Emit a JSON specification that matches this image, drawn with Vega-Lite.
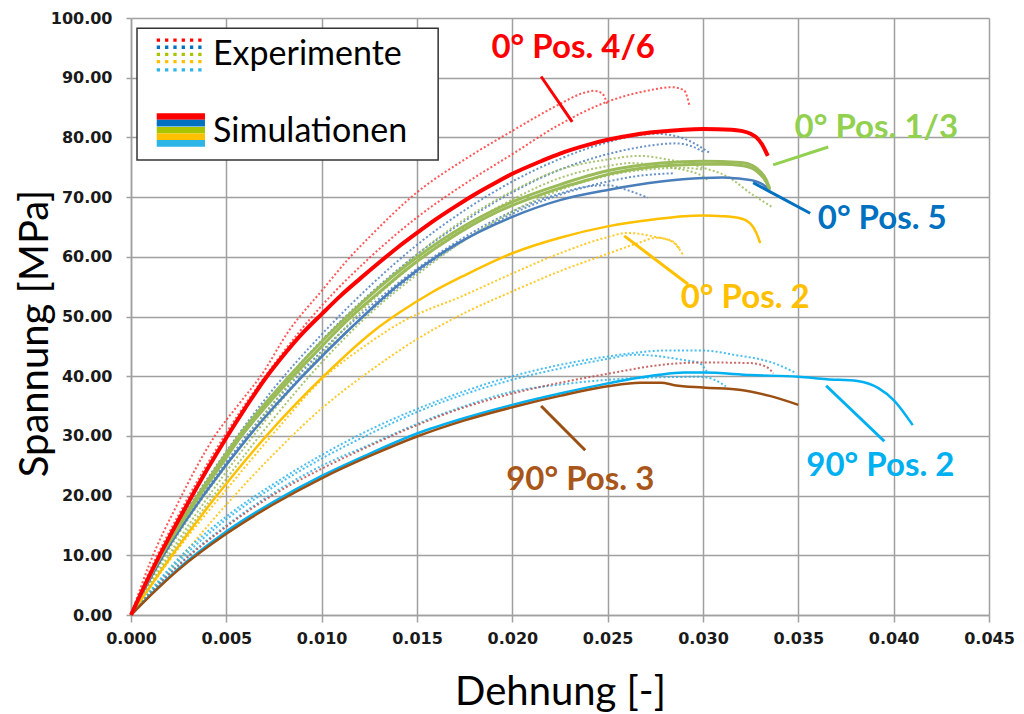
{
"$schema":"https://vega.github.io/schema/vega-lite/v6.json",
"width":858,"height":597,
"autosize":{"type":"none"},
"padding":{"left":131,"top":18,"right":35,"bottom":99},
"background":"white",
"config":{"view":{"stroke":null},
"axis":{"gridColor":"#a0a0a0","gridWidth":1.5,"domainColor":"#a0a0a0","domainWidth":1.5,"tickColor":"#a0a0a0","tickWidth":1.5,"labelFont":"DejaVu Sans","labelFontWeight":"bold","labelFontSize":16,"labelColor":"#1a1a1a","titleFont":"Lato","titleFontWeight":"normal","titleFontSize":40,"titleColor":"#000000","labelFlush":false,"labelOverlap":false},
"axisX":{"tickSize":7,"labelPadding":8,"titleY":77,"titleBaseline":"middle"},
"axisY":{"tickSize":5,"labelPadding":14,"titleX":-96,"titleY":315,"titleBaseline":"middle","titleAlign":"center"}},
"datasets":{
"exp":[
{"s":"R1","g":"p46","x":0,"y":0},{"s":"R1","g":"p46","x":0.001,"y":8.8},{"s":"R1","g":"p46","x":0.0025,"y":19},{"s":"R1","g":"p46","x":0.0044,"y":30},{"s":"R1","g":"p46","x":0.0057,"y":35.5},{"s":"R1","g":"p46","x":0.0068,"y":40},{"s":"R1","g":"p46","x":0.0083,"y":47.7},{"s":"R1","g":"p46","x":0.01,"y":54.3},{"s":"R1","g":"p46","x":0.0115,"y":60},{"s":"R1","g":"p46","x":0.0125,"y":63.3},{"s":"R1","g":"p46","x":0.015,"y":70.8},{"s":"R1","g":"p46","x":0.0175,"y":76.3},{"s":"R1","g":"p46","x":0.02,"y":81.1},{"s":"R1","g":"p46","x":0.0225,"y":85.6},{"s":"R1","g":"p46","x":0.0236,"y":87.3},{"s":"R1","g":"p46","x":0.0243,"y":87.8},{"s":"R1","g":"p46","x":0.0247,"y":87.4},{"s":"R1","g":"p46","x":0.025,"y":85.4},
{"s":"R2","g":"p46","x":0,"y":0},{"s":"R2","g":"p46","x":0.001,"y":7.5},{"s":"R2","g":"p46","x":0.0025,"y":16.8},{"s":"R2","g":"p46","x":0.005,"y":30.5},{"s":"R2","g":"p46","x":0.0075,"y":42},{"s":"R2","g":"p46","x":0.01,"y":51.8},{"s":"R2","g":"p46","x":0.0125,"y":59.8},{"s":"R2","g":"p46","x":0.015,"y":66.6},{"s":"R2","g":"p46","x":0.0175,"y":72.2},{"s":"R2","g":"p46","x":0.02,"y":77.2},{"s":"R2","g":"p46","x":0.0225,"y":82.2},{"s":"R2","g":"p46","x":0.025,"y":86},{"s":"R2","g":"p46","x":0.0269,"y":87.7},{"s":"R2","g":"p46","x":0.0284,"y":88.4},{"s":"R2","g":"p46","x":0.029,"y":87.9},{"s":"R2","g":"p46","x":0.0293,"y":85.2},
{"s":"B1","g":"p5","x":0,"y":0},{"s":"B1","g":"p5","x":0.001,"y":6.3},{"s":"B1","g":"p5","x":0.0025,"y":15.2},{"s":"B1","g":"p5","x":0.005,"y":27.4},{"s":"B1","g":"p5","x":0.0075,"y":38},{"s":"B1","g":"p5","x":0.01,"y":47},{"s":"B1","g":"p5","x":0.0125,"y":55},{"s":"B1","g":"p5","x":0.015,"y":62},{"s":"B1","g":"p5","x":0.0175,"y":67.8},{"s":"B1","g":"p5","x":0.02,"y":72.6},{"s":"B1","g":"p5","x":0.0225,"y":76.4},{"s":"B1","g":"p5","x":0.025,"y":79.2},{"s":"B1","g":"p5","x":0.0265,"y":80.3},{"s":"B1","g":"p5","x":0.0276,"y":80.6},{"s":"B1","g":"p5","x":0.029,"y":79.8},{"s":"B1","g":"p5","x":0.0304,"y":77.3},
{"s":"B2","g":"p5","x":0,"y":0},{"s":"B2","g":"p5","x":0.001,"y":6},{"s":"B2","g":"p5","x":0.0025,"y":14.6},{"s":"B2","g":"p5","x":0.005,"y":26.6},{"s":"B2","g":"p5","x":0.0075,"y":37},{"s":"B2","g":"p5","x":0.01,"y":46},{"s":"B2","g":"p5","x":0.0125,"y":53.7},{"s":"B2","g":"p5","x":0.015,"y":60.4},{"s":"B2","g":"p5","x":0.0175,"y":66},{"s":"B2","g":"p5","x":0.02,"y":70.8},{"s":"B2","g":"p5","x":0.0225,"y":74.6},{"s":"B2","g":"p5","x":0.025,"y":77.2},{"s":"B2","g":"p5","x":0.0264,"y":78.2},{"s":"B2","g":"p5","x":0.0286,"y":79},{"s":"B2","g":"p5","x":0.0295,"y":78.4},{"s":"B2","g":"p5","x":0.03,"y":77.6},
{"s":"B3","g":"p5","x":0,"y":0},{"s":"B3","g":"p5","x":0.001,"y":5.8},{"s":"B3","g":"p5","x":0.0025,"y":14},{"s":"B3","g":"p5","x":0.005,"y":25.6},{"s":"B3","g":"p5","x":0.0075,"y":35.6},{"s":"B3","g":"p5","x":0.01,"y":44.2},{"s":"B3","g":"p5","x":0.0125,"y":51.6},{"s":"B3","g":"p5","x":0.015,"y":58},{"s":"B3","g":"p5","x":0.0175,"y":63.3},{"s":"B3","g":"p5","x":0.02,"y":67.6},{"s":"B3","g":"p5","x":0.0225,"y":70.6},{"s":"B3","g":"p5","x":0.024,"y":71.8},{"s":"B3","g":"p5","x":0.025,"y":72},{"s":"B3","g":"p5","x":0.026,"y":71.2},{"s":"B3","g":"p5","x":0.0271,"y":69.9},
{"s":"B4","g":"p5","x":0,"y":0},{"s":"B4","g":"p5","x":0.001,"y":5.9},{"s":"B4","g":"p5","x":0.0025,"y":14.2},{"s":"B4","g":"p5","x":0.005,"y":25.2},{"s":"B4","g":"p5","x":0.0075,"y":35},{"s":"B4","g":"p5","x":0.01,"y":43.5},{"s":"B4","g":"p5","x":0.0125,"y":50.8},{"s":"B4","g":"p5","x":0.015,"y":57.4},{"s":"B4","g":"p5","x":0.0175,"y":62.8},{"s":"B4","g":"p5","x":0.02,"y":67.2},{"s":"B4","g":"p5","x":0.0225,"y":70.4},{"s":"B4","g":"p5","x":0.025,"y":72.6},{"s":"B4","g":"p5","x":0.0265,"y":73.5},{"s":"B4","g":"p5","x":0.0285,"y":74},
{"s":"G1","g":"p13","x":0,"y":0},{"s":"G1","g":"p13","x":0.001,"y":5.6},{"s":"G1","g":"p13","x":0.0025,"y":13.6},{"s":"G1","g":"p13","x":0.005,"y":25},{"s":"G1","g":"p13","x":0.0075,"y":35.6},{"s":"G1","g":"p13","x":0.01,"y":45},{"s":"G1","g":"p13","x":0.0125,"y":53.4},{"s":"G1","g":"p13","x":0.015,"y":60.4},{"s":"G1","g":"p13","x":0.0175,"y":66.3},{"s":"G1","g":"p13","x":0.02,"y":71},{"s":"G1","g":"p13","x":0.0225,"y":74.6},{"s":"G1","g":"p13","x":0.025,"y":76.3},{"s":"G1","g":"p13","x":0.0267,"y":76.9},{"s":"G1","g":"p13","x":0.0283,"y":76.2},{"s":"G1","g":"p13","x":0.0299,"y":75},{"s":"G1","g":"p13","x":0.0313,"y":73.4},{"s":"G1","g":"p13","x":0.0326,"y":70.4},{"s":"G1","g":"p13","x":0.0336,"y":68.4},
{"s":"G2","g":"p13","x":0,"y":0},{"s":"G2","g":"p13","x":0.001,"y":5.1},{"s":"G2","g":"p13","x":0.0025,"y":12.6},{"s":"G2","g":"p13","x":0.005,"y":24},{"s":"G2","g":"p13","x":0.0075,"y":34.4},{"s":"G2","g":"p13","x":0.01,"y":43.8},{"s":"G2","g":"p13","x":0.0125,"y":52.2},{"s":"G2","g":"p13","x":0.015,"y":59.2},{"s":"G2","g":"p13","x":0.0175,"y":65},{"s":"G2","g":"p13","x":0.02,"y":69.6},{"s":"G2","g":"p13","x":0.0225,"y":73.2},{"s":"G2","g":"p13","x":0.025,"y":75.2},{"s":"G2","g":"p13","x":0.0262,"y":75.7},{"s":"G2","g":"p13","x":0.028,"y":75.1},{"s":"G2","g":"p13","x":0.03,"y":73.5},{"s":"G2","g":"p13","x":0.0303,"y":72.6},
{"s":"G3","g":"p13","x":0,"y":0},{"s":"G3","g":"p13","x":0.001,"y":4.8},{"s":"G3","g":"p13","x":0.0025,"y":12},{"s":"G3","g":"p13","x":0.005,"y":22.8},{"s":"G3","g":"p13","x":0.0075,"y":33},{"s":"G3","g":"p13","x":0.01,"y":42.3},{"s":"G3","g":"p13","x":0.0125,"y":50.4},{"s":"G3","g":"p13","x":0.015,"y":57},{"s":"G3","g":"p13","x":0.0175,"y":62.8},{"s":"G3","g":"p13","x":0.02,"y":67.6},{"s":"G3","g":"p13","x":0.0225,"y":71.2},{"s":"G3","g":"p13","x":0.025,"y":73.6},{"s":"G3","g":"p13","x":0.027,"y":74.6},{"s":"G3","g":"p13","x":0.029,"y":74.9},{"s":"G3","g":"p13","x":0.03,"y":74.6},
{"s":"Y1","g":"p2","x":0,"y":0},{"s":"Y1","g":"p2","x":0.001,"y":4.6},{"s":"Y1","g":"p2","x":0.0025,"y":11.2},{"s":"Y1","g":"p2","x":0.005,"y":21},{"s":"Y1","g":"p2","x":0.0075,"y":30.5},{"s":"Y1","g":"p2","x":0.01,"y":39.4},{"s":"Y1","g":"p2","x":0.0125,"y":45.6},{"s":"Y1","g":"p2","x":0.0141,"y":48.9},{"s":"Y1","g":"p2","x":0.0175,"y":53.6},{"s":"Y1","g":"p2","x":0.02,"y":57.2},{"s":"Y1","g":"p2","x":0.0225,"y":60.6},{"s":"Y1","g":"p2","x":0.025,"y":63.3},{"s":"Y1","g":"p2","x":0.026,"y":64},{"s":"Y1","g":"p2","x":0.0274,"y":63.4},{"s":"Y1","g":"p2","x":0.0284,"y":62.5},{"s":"Y1","g":"p2","x":0.029,"y":60.1},
{"s":"Y2","g":"p2","x":0,"y":0},{"s":"Y2","g":"p2","x":0.001,"y":3.6},{"s":"Y2","g":"p2","x":0.0025,"y":9.2},{"s":"Y2","g":"p2","x":0.005,"y":18.5},{"s":"Y2","g":"p2","x":0.0075,"y":27},{"s":"Y2","g":"p2","x":0.01,"y":34.6},{"s":"Y2","g":"p2","x":0.0125,"y":40.8},{"s":"Y2","g":"p2","x":0.015,"y":46.2},{"s":"Y2","g":"p2","x":0.0175,"y":50.6},{"s":"Y2","g":"p2","x":0.02,"y":54.2},{"s":"Y2","g":"p2","x":0.0225,"y":57.6},{"s":"Y2","g":"p2","x":0.025,"y":60.5},{"s":"Y2","g":"p2","x":0.0265,"y":62.2},{"s":"Y2","g":"p2","x":0.0276,"y":63.2},{"s":"Y2","g":"p2","x":0.0284,"y":62.6},{"s":"Y2","g":"p2","x":0.0288,"y":61.2},
{"s":"C1","g":"q2","x":0,"y":0},{"s":"C1","g":"q2","x":0.001,"y":4},{"s":"C1","g":"q2","x":0.0025,"y":9.5},{"s":"C1","g":"q2","x":0.005,"y":16.5},{"s":"C1","g":"q2","x":0.0075,"y":22},{"s":"C1","g":"q2","x":0.01,"y":26.8},{"s":"C1","g":"q2","x":0.0125,"y":31},{"s":"C1","g":"q2","x":0.015,"y":34.5},{"s":"C1","g":"q2","x":0.0175,"y":37.5},{"s":"C1","g":"q2","x":0.02,"y":40},{"s":"C1","g":"q2","x":0.0225,"y":41.9},{"s":"C1","g":"q2","x":0.025,"y":43.3},{"s":"C1","g":"q2","x":0.0281,"y":44.3},{"s":"C1","g":"q2","x":0.03,"y":44.3},{"s":"C1","g":"q2","x":0.0316,"y":43.6},{"s":"C1","g":"q2","x":0.0337,"y":42.2},{"s":"C1","g":"q2","x":0.0349,"y":40.5},
{"s":"C2","g":"q2","x":0,"y":0},{"s":"C2","g":"q2","x":0.001,"y":3.8},{"s":"C2","g":"q2","x":0.0025,"y":9},{"s":"C2","g":"q2","x":0.005,"y":16},{"s":"C2","g":"q2","x":0.0075,"y":21.5},{"s":"C2","g":"q2","x":0.01,"y":26.2},{"s":"C2","g":"q2","x":0.0125,"y":30.3},{"s":"C2","g":"q2","x":0.015,"y":34},{"s":"C2","g":"q2","x":0.0175,"y":37},{"s":"C2","g":"q2","x":0.02,"y":39.4},{"s":"C2","g":"q2","x":0.0225,"y":41.3},{"s":"C2","g":"q2","x":0.025,"y":42.9},{"s":"C2","g":"q2","x":0.0264,"y":43.6},{"s":"C2","g":"q2","x":0.029,"y":42.7},{"s":"C2","g":"q2","x":0.0298,"y":42.2},{"s":"C2","g":"q2","x":0.0302,"y":40.8},
{"s":"C3","g":"q2","x":0,"y":0},{"s":"C3","g":"q2","x":0.001,"y":3.6},{"s":"C3","g":"q2","x":0.0025,"y":8.5},{"s":"C3","g":"q2","x":0.005,"y":15},{"s":"C3","g":"q2","x":0.0075,"y":20.5},{"s":"C3","g":"q2","x":0.01,"y":25},{"s":"C3","g":"q2","x":0.0125,"y":28.5},{"s":"C3","g":"q2","x":0.015,"y":32},{"s":"C3","g":"q2","x":0.0175,"y":35},{"s":"C3","g":"q2","x":0.02,"y":37.4},{"s":"C3","g":"q2","x":0.0225,"y":38.6},{"s":"C3","g":"q2","x":0.025,"y":39.4},{"s":"C3","g":"q2","x":0.0275,"y":39.8},{"s":"C3","g":"q2","x":0.0299,"y":39.9},{"s":"C3","g":"q2","x":0.0306,"y":39.4},{"s":"C3","g":"q2","x":0.0312,"y":38.3},
{"s":"D1","g":"q3","x":0,"y":0},{"s":"D1","g":"q3","x":0.001,"y":3.5},{"s":"D1","g":"q3","x":0.0025,"y":8.3},{"s":"D1","g":"q3","x":0.005,"y":14.8},{"s":"D1","g":"q3","x":0.0075,"y":20.2},{"s":"D1","g":"q3","x":0.01,"y":24.5},{"s":"D1","g":"q3","x":0.0125,"y":28.3},{"s":"D1","g":"q3","x":0.015,"y":31.8},{"s":"D1","g":"q3","x":0.0175,"y":34.8},{"s":"D1","g":"q3","x":0.02,"y":37.1},{"s":"D1","g":"q3","x":0.0225,"y":38.9},{"s":"D1","g":"q3","x":0.025,"y":40.4},{"s":"D1","g":"q3","x":0.0281,"y":42},{"s":"D1","g":"q3","x":0.03,"y":42.3},{"s":"D1","g":"q3","x":0.0325,"y":42.2},{"s":"D1","g":"q3","x":0.0333,"y":41.6},{"s":"D1","g":"q3","x":0.0337,"y":40.5}
],
"sim":[
{"s":"SR","g":"p46","x":0,"y":0},{"s":"SR","g":"p46","x":0.001,"y":6.8},{"s":"SR","g":"p46","x":0.002,"y":13},{"s":"SR","g":"p46","x":0.003,"y":18.8},{"s":"SR","g":"p46","x":0.004,"y":24.4},{"s":"SR","g":"p46","x":0.005,"y":29.7},{"s":"SR","g":"p46","x":0.006,"y":34.7},{"s":"SR","g":"p46","x":0.007,"y":39.4},{"s":"SR","g":"p46","x":0.008,"y":43.5},{"s":"SR","g":"p46","x":0.009,"y":47.2},{"s":"SR","g":"p46","x":0.01,"y":50.4},{"s":"SR","g":"p46","x":0.011,"y":53.5},{"s":"SR","g":"p46","x":0.012,"y":56.3},{"s":"SR","g":"p46","x":0.013,"y":59},{"s":"SR","g":"p46","x":0.014,"y":61.6},{"s":"SR","g":"p46","x":0.015,"y":64},{"s":"SR","g":"p46","x":0.016,"y":66.3},{"s":"SR","g":"p46","x":0.017,"y":68.4},{"s":"SR","g":"p46","x":0.018,"y":70.4},{"s":"SR","g":"p46","x":0.019,"y":72.2},{"s":"SR","g":"p46","x":0.02,"y":73.9},{"s":"SR","g":"p46","x":0.0215,"y":76},{"s":"SR","g":"p46","x":0.0225,"y":77.3},{"s":"SR","g":"p46","x":0.024,"y":78.8},{"s":"SR","g":"p46","x":0.025,"y":79.6},{"s":"SR","g":"p46","x":0.0265,"y":80.5},{"s":"SR","g":"p46","x":0.0275,"y":80.9},{"s":"SR","g":"p46","x":0.029,"y":81.3},{"s":"SR","g":"p46","x":0.03,"y":81.4},{"s":"SR","g":"p46","x":0.0315,"y":81.3},{"s":"SR","g":"p46","x":0.032,"y":81.1},{"s":"SR","g":"p46","x":0.0325,"y":80.6},{"s":"SR","g":"p46","x":0.0328,"y":80},{"s":"SR","g":"p46","x":0.0331,"y":78.8},{"s":"SR","g":"p46","x":0.0334,"y":76.9},
{"s":"SG1","g":"p13","x":0,"y":0},{"s":"SG1","g":"p13","x":0.0008,"y":5.2},{"s":"SG1","g":"p13","x":0.0016,"y":10},{"s":"SG1","g":"p13","x":0.0026,"y":15.2},{"s":"SG1","g":"p13","x":0.0036,"y":20},{"s":"SG1","g":"p13","x":0.0047,"y":25},{"s":"SG1","g":"p13","x":0.0058,"y":30},{"s":"SG1","g":"p13","x":0.0071,"y":35},{"s":"SG1","g":"p13","x":0.0085,"y":40},{"s":"SG1","g":"p13","x":0.01,"y":45},{"s":"SG1","g":"p13","x":0.0115,"y":49.8},{"s":"SG1","g":"p13","x":0.013,"y":54},{"s":"SG1","g":"p13","x":0.0145,"y":58},{"s":"SG1","g":"p13","x":0.016,"y":61.5},{"s":"SG1","g":"p13","x":0.0175,"y":64.6},{"s":"SG1","g":"p13","x":0.019,"y":67.2},{"s":"SG1","g":"p13","x":0.02,"y":68.6},{"s":"SG1","g":"p13","x":0.0215,"y":70.4},{"s":"SG1","g":"p13","x":0.0225,"y":71.5},{"s":"SG1","g":"p13","x":0.024,"y":72.9},{"s":"SG1","g":"p13","x":0.025,"y":73.8},{"s":"SG1","g":"p13","x":0.0265,"y":74.7},{"s":"SG1","g":"p13","x":0.0278,"y":75.2},{"s":"SG1","g":"p13","x":0.029,"y":75.4},{"s":"SG1","g":"p13","x":0.03,"y":75.5},{"s":"SG1","g":"p13","x":0.031,"y":75.5},{"s":"SG1","g":"p13","x":0.032,"y":75.3},{"s":"SG1","g":"p13","x":0.0326,"y":74.8},{"s":"SG1","g":"p13","x":0.033,"y":73.8},{"s":"SG1","g":"p13","x":0.0333,"y":72.6},{"s":"SG1","g":"p13","x":0.0335,"y":71.2},
{"s":"SG2","g":"p13","x":0,"y":0},{"s":"SG2","g":"p13","x":0.0016,"y":10.3},{"s":"SG2","g":"p13","x":0.0036,"y":20.5},{"s":"SG2","g":"p13","x":0.0058,"y":30.6},{"s":"SG2","g":"p13","x":0.0085,"y":40.7},{"s":"SG2","g":"p13","x":0.0115,"y":50.5},{"s":"SG2","g":"p13","x":0.0145,"y":58.7},{"s":"SG2","g":"p13","x":0.0175,"y":65.2},{"s":"SG2","g":"p13","x":0.02,"y":69.2},{"s":"SG2","g":"p13","x":0.0225,"y":72.1},{"s":"SG2","g":"p13","x":0.025,"y":74.4},{"s":"SG2","g":"p13","x":0.0278,"y":75.7},{"s":"SG2","g":"p13","x":0.03,"y":76},{"s":"SG2","g":"p13","x":0.032,"y":75.8},{"s":"SG2","g":"p13","x":0.0326,"y":75.3},{"s":"SG2","g":"p13","x":0.033,"y":74.3},{"s":"SG2","g":"p13","x":0.0333,"y":73},{"s":"SG2","g":"p13","x":0.0335,"y":71.4},
{"s":"SB","g":"p5","x":0,"y":0},{"s":"SB","g":"p5","x":0.0017,"y":10},{"s":"SB","g":"p5","x":0.0038,"y":20},{"s":"SB","g":"p5","x":0.0062,"y":30},{"s":"SB","g":"p5","x":0.009,"y":40},{"s":"SB","g":"p5","x":0.0114,"y":47.7},{"s":"SB","g":"p5","x":0.0141,"y":55.5},{"s":"SB","g":"p5","x":0.017,"y":62},{"s":"SB","g":"p5","x":0.02,"y":66.7},{"s":"SB","g":"p5","x":0.0225,"y":69.5},{"s":"SB","g":"p5","x":0.025,"y":71.2},{"s":"SB","g":"p5","x":0.0278,"y":72.6},{"s":"SB","g":"p5","x":0.03,"y":73.2},{"s":"SB","g":"p5","x":0.031,"y":73.3},{"s":"SB","g":"p5","x":0.0319,"y":73.1},{"s":"SB","g":"p5","x":0.0326,"y":72.8},{"s":"SB","g":"p5","x":0.0331,"y":72.2},{"s":"SB","g":"p5","x":0.0335,"y":71.2},
{"s":"SY","g":"p2","x":0,"y":0},{"s":"SY","g":"p2","x":0.00215,"y":10},{"s":"SY","g":"p2","x":0.0045,"y":20},{"s":"SY","g":"p2","x":0.0071,"y":30},{"s":"SY","g":"p2","x":0.0101,"y":40},{"s":"SY","g":"p2","x":0.0127,"y":47.5},{"s":"SY","g":"p2","x":0.0141,"y":50.7},{"s":"SY","g":"p2","x":0.0157,"y":53.9},{"s":"SY","g":"p2","x":0.0175,"y":56.9},{"s":"SY","g":"p2","x":0.02,"y":60.6},{"s":"SY","g":"p2","x":0.0225,"y":63.2},{"s":"SY","g":"p2","x":0.025,"y":65.1},{"s":"SY","g":"p2","x":0.0275,"y":66.3},{"s":"SY","g":"p2","x":0.029,"y":66.8},{"s":"SY","g":"p2","x":0.03,"y":66.9},{"s":"SY","g":"p2","x":0.031,"y":66.8},{"s":"SY","g":"p2","x":0.0319,"y":66.5},{"s":"SY","g":"p2","x":0.0325,"y":65.5},{"s":"SY","g":"p2","x":0.0328,"y":64},{"s":"SY","g":"p2","x":0.033,"y":62.3},
{"s":"SC","g":"q2","x":0,"y":0},{"s":"SC","g":"q2","x":0.001,"y":3.3},{"s":"SC","g":"q2","x":0.0025,"y":7.8},{"s":"SC","g":"q2","x":0.005,"y":14},{"s":"SC","g":"q2","x":0.0075,"y":19},{"s":"SC","g":"q2","x":0.01,"y":23.3},{"s":"SC","g":"q2","x":0.0125,"y":27},{"s":"SC","g":"q2","x":0.015,"y":30.4},{"s":"SC","g":"q2","x":0.0175,"y":33},{"s":"SC","g":"q2","x":0.02,"y":35.2},{"s":"SC","g":"q2","x":0.0225,"y":37.1},{"s":"SC","g":"q2","x":0.025,"y":38.8},{"s":"SC","g":"q2","x":0.0276,"y":40.2},{"s":"SC","g":"q2","x":0.029,"y":40.6},{"s":"SC","g":"q2","x":0.03,"y":40.6},{"s":"SC","g":"q2","x":0.0325,"y":40.2},{"s":"SC","g":"q2","x":0.035,"y":39.9},{"s":"SC","g":"q2","x":0.0365,"y":39.5},{"s":"SC","g":"q2","x":0.0381,"y":39.2},{"s":"SC","g":"q2","x":0.0392,"y":38},{"s":"SC","g":"q2","x":0.04,"y":36},{"s":"SC","g":"q2","x":0.041,"y":31.8},
{"s":"SBr","g":"q3","x":0,"y":0},{"s":"SBr","g":"q3","x":0.001,"y":3.2},{"s":"SBr","g":"q3","x":0.0025,"y":7.6},{"s":"SBr","g":"q3","x":0.005,"y":13.6},{"s":"SBr","g":"q3","x":0.0075,"y":18.6},{"s":"SBr","g":"q3","x":0.01,"y":22.9},{"s":"SBr","g":"q3","x":0.0125,"y":26.6},{"s":"SBr","g":"q3","x":0.015,"y":29.9},{"s":"SBr","g":"q3","x":0.0175,"y":32.6},{"s":"SBr","g":"q3","x":0.02,"y":34.8},{"s":"SBr","g":"q3","x":0.0225,"y":36.7},{"s":"SBr","g":"q3","x":0.025,"y":38.3},{"s":"SBr","g":"q3","x":0.0267,"y":38.9},{"s":"SBr","g":"q3","x":0.0278,"y":38.9},{"s":"SBr","g":"q3","x":0.0285,"y":38.5},{"s":"SBr","g":"q3","x":0.03,"y":38.1},{"s":"SBr","g":"q3","x":0.032,"y":37.7},{"s":"SBr","g":"q3","x":0.0335,"y":36.7},{"s":"SBr","g":"q3","x":0.035,"y":35.2}
]},
"resolve":{"scale":{"color":"independent"}},
"layer":[
{"data":{"name":"exp"},"mark":{"type":"line","strokeWidth":2,"strokeDash":[2,2.2],"opacity":0.85,"interpolate":"monotone"},
"encoding":{
"x":{"field":"x","type":"quantitative","scale":{"domain":[0,0.045],"nice":false,"zero":true},"axis":{"values":[0,0.005,0.01,0.015,0.02,0.025,0.03,0.035,0.04,0.045],"format":".3f","title":"Dehnung [-]"}},
"y":{"field":"y","type":"quantitative","scale":{"domain":[0,100],"nice":false},"axis":{"values":[0,10,20,30,40,50,60,70,80,90,100],"format":".2f","title":"Spannung [MPa]"}},
"color":{"field":"g","type":"nominal","scale":{"domain":["p46","p5","p13","p2","q2","q3"],"range":["#ff3b3b","#4f81bd","#9bbb59","#ffc000","#2ab4ec","#c0504d"]},"legend":null},
"detail":{"field":"s"}}},
{"data":{"name":"sim"},"transform":[{"filter":"datum.s=='SC' || datum.s=='SBr' || datum.s=='SY' || datum.s=='SB'"}],"mark":{"type":"line","strokeWidth":2.5,"interpolate":"monotone"},
"encoding":{"x":{"field":"x","type":"quantitative"},"y":{"field":"y","type":"quantitative"},
"color":{"field":"g","type":"nominal","scale":{"domain":["p5","p2","q2","q3"],"range":["#4a7ebb","#ffc000","#00b0f0","#9c4f12"]},"legend":null},"detail":{"field":"s"}}},
{"data":{"name":"sim"},"transform":[{"filter":"datum.g=='p13'"}],"mark":{"type":"line","strokeWidth":3,"color":"#9bbb59","interpolate":"monotone"},
"encoding":{"x":{"field":"x","type":"quantitative"},"y":{"field":"y","type":"quantitative"},"detail":{"field":"s"}}},
{"data":{"name":"sim"},"transform":[{"filter":"datum.g=='p46'"}],"mark":{"type":"line","strokeWidth":4,"color":"#ff0000","interpolate":"monotone"},
"encoding":{"x":{"field":"x","type":"quantitative"},"y":{"field":"y","type":"quantitative"},"detail":{"field":"s"}}},
{"data":{"values":[{}]},"mark":{"type":"rule","strokeWidth":3,"color":"#ff0000"},"encoding":{"x":{"datum":0.02151},"y":{"datum":90.2},"x2":{"datum":0.02314},"y2":{"datum":82.6}}},
{"data":{"values":[{}]},"mark":{"type":"rule","strokeWidth":3,"color":"#92d050"},"encoding":{"x":{"datum":0.03368},"y":{"datum":75.4},"x2":{"datum":0.03657},"y2":{"datum":78.4}}},
{"data":{"values":[{}]},"mark":{"type":"rule","strokeWidth":3,"color":"#0070c0"},"encoding":{"x":{"datum":0.03263},"y":{"datum":72.4},"x2":{"datum":0.03562},"y2":{"datum":67.3}}},
{"data":{"values":[{}]},"mark":{"type":"rule","strokeWidth":3,"color":"#ffc000"},"encoding":{"x":{"datum":0.02587},"y":{"datum":63.5},"x2":{"datum":0.02922},"y2":{"datum":55.4}}},
{"data":{"values":[{}]},"mark":{"type":"rule","strokeWidth":3,"color":"#9c4f12"},"encoding":{"x":{"datum":0.02151},"y":{"datum":35.0},"x2":{"datum":0.02382},"y2":{"datum":27.6}}},
{"data":{"values":[{}]},"mark":{"type":"rule","strokeWidth":3,"color":"#00b0f0"},"encoding":{"x":{"datum":0.03646},"y":{"datum":38.4},"x2":{"datum":0.03951},"y2":{"datum":29.1}}},
{"data":{"values":[{}]},"mark":{"type":"text","text":"0° Pos. 4/6","font":"Lato","fontWeight":"bold","fontSize":33,"color":"#ff0000","align":"center","baseline":"middle"},"encoding":{"x":{"datum":0.02319},"y":{"datum":95.0}}},
{"data":{"values":[{}]},"mark":{"type":"text","text":"0° Pos. 1/3","font":"Lato","fontWeight":"bold","fontSize":33,"color":"#92d050","align":"center","baseline":"middle"},"encoding":{"x":{"datum":0.03909},"y":{"datum":81.6}}},
{"data":{"values":[{}]},"mark":{"type":"text","text":"0° Pos. 5","font":"Lato","fontWeight":"bold","fontSize":33,"color":"#0070c0","align":"center","baseline":"middle"},"encoding":{"x":{"datum":0.0394},"y":{"datum":66.3}}},
{"data":{"values":[{}]},"mark":{"type":"text","text":"0° Pos. 2","font":"Lato","fontWeight":"bold","fontSize":33,"color":"#ffc000","align":"center","baseline":"middle"},"encoding":{"x":{"datum":0.03221},"y":{"datum":53.1}}},
{"data":{"values":[{}]},"mark":{"type":"text","text":"90° Pos. 3","font":"Lato","fontWeight":"bold","fontSize":33,"color":"#a8561a","align":"center","baseline":"middle"},"encoding":{"x":{"datum":0.02356},"y":{"datum":22.6}}},
{"data":{"values":[{}]},"mark":{"type":"text","text":"90° Pos. 2","font":"Lato","fontWeight":"bold","fontSize":33,"color":"#00b0f0","align":"center","baseline":"middle"},"encoding":{"x":{"datum":0.0393},"y":{"datum":25.0}}},
{"data":{"values":[{}]},"mark":{"type":"rect","fill":"#ffffff","stroke":"#333333","strokeWidth":1.5},"encoding":{"x":{"datum":0.000315},"x2":{"datum":0.01611},"y":{"datum":98.3},"y2":{"datum":76.2}}},
{"data":{"values":[{}]},"mark":{"type":"rule","strokeWidth":3.3,"strokeDash":[3.3,5],"color":"#ff0000"},"encoding":{"x":{"datum":0.00135},"x2":{"datum":0.00385},"y":{"datum":96.3}}},
{"data":{"values":[{}]},"mark":{"type":"rule","strokeWidth":3.3,"strokeDash":[3.3,5],"color":"#0070c0"},"encoding":{"x":{"datum":0.00135},"x2":{"datum":0.00385},"y":{"datum":95.1}}},
{"data":{"values":[{}]},"mark":{"type":"rule","strokeWidth":3.3,"strokeDash":[3.3,5],"color":"#a9c400"},"encoding":{"x":{"datum":0.00135},"x2":{"datum":0.00385},"y":{"datum":93.9}}},
{"data":{"values":[{}]},"mark":{"type":"rule","strokeWidth":3.3,"strokeDash":[3.3,5],"color":"#ffc000"},"encoding":{"x":{"datum":0.00135},"x2":{"datum":0.00385},"y":{"datum":92.7}}},
{"data":{"values":[{}]},"mark":{"type":"rule","strokeWidth":3.3,"strokeDash":[3.3,5],"color":"#2cb5e6"},"encoding":{"x":{"datum":0.00135},"x2":{"datum":0.00385},"y":{"datum":91.3}}},
{"data":{"values":[{}]},"mark":{"type":"rule","strokeWidth":6.7,"color":"#ff0000"},"encoding":{"x":{"datum":0.00135},"x2":{"datum":0.00388},"y":{"datum":83.5}}},
{"data":{"values":[{}]},"mark":{"type":"rule","strokeWidth":6.7,"color":"#0070c0"},"encoding":{"x":{"datum":0.00135},"x2":{"datum":0.00388},"y":{"datum":82.4}}},
{"data":{"values":[{}]},"mark":{"type":"rule","strokeWidth":6.7,"color":"#a9c400"},"encoding":{"x":{"datum":0.00135},"x2":{"datum":0.00388},"y":{"datum":81.2}}},
{"data":{"values":[{}]},"mark":{"type":"rule","strokeWidth":6.7,"color":"#ffc000"},"encoding":{"x":{"datum":0.00135},"x2":{"datum":0.00388},"y":{"datum":80.1}}},
{"data":{"values":[{}]},"mark":{"type":"rule","strokeWidth":6.7,"color":"#2cb5e6"},"encoding":{"x":{"datum":0.00135},"x2":{"datum":0.00388},"y":{"datum":79.0}}},
{"data":{"values":[{}]},"mark":{"type":"text","text":"Experimente","font":"Lato","fontSize":34,"color":"#000000","align":"left","baseline":"middle"},"encoding":{"x":{"datum":0.0043},"y":{"datum":93.8}}},
{"data":{"values":[{}]},"mark":{"type":"text","text":"Simulationen","font":"Lato","fontSize":34,"color":"#000000","align":"left","baseline":"middle"},"encoding":{"x":{"datum":0.0043},"y":{"datum":80.9}}}
]}
